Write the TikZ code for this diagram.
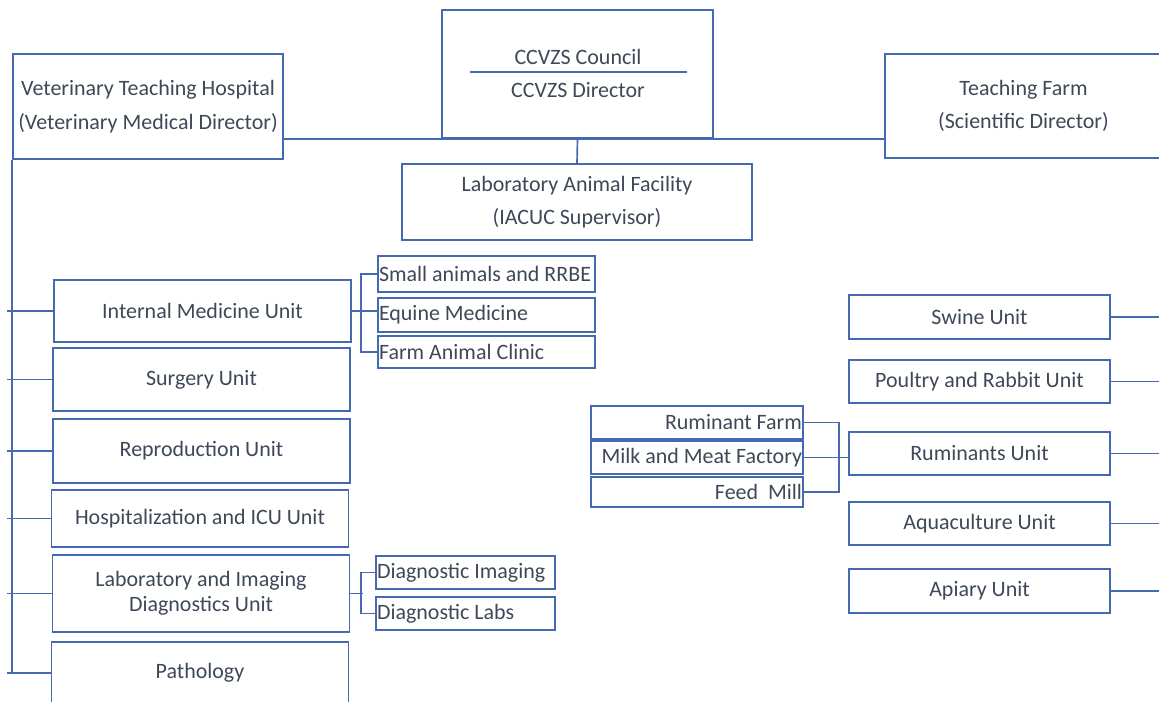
\documentclass[tikz,border=0pt]{standalone}
\usepackage{fontspec}
\setmainfont{Carlito}
\usepackage{tikz}
\usetikzlibrary{positioning,calc}

\definecolor{boxblue}{RGB}{70,106,178}
\definecolor{txtgray}{RGB}{62,72,88}

\begin{document}
\begin{tikzpicture}[
    x=0.02cm, y=-0.02cm,
    box/.style={draw=boxblue, line width=0.95pt, text=txtgray, align=center, inner sep=0pt,
                font=\fontsize{12.5}{14}\selectfont},
    head/.style={box, font=\fontsize{12.5}{19}\selectfont},
    unit/.style={box, minimum width=5.94cm},
    farmunit/.style={box, minimum width=5.22cm},
    leftsub/.style={box, align=flush left, text width=4.3cm, inner xsep=0.02cm,
                    execute at begin node={\spaceskip=0pt\xspaceskip=0pt\relax}},
    diagsub/.style={leftsub, text width=3.54cm},
    rumsub/.style={leftsub, align=flush right, text width=4.2cm},
    lbl/.style={text=txtgray, font=\fontsize{12.5}{14}\selectfont, inner sep=1pt},
    conn/.style={draw=boxblue, line width=0.95pt},
]
\useasboundingbox (0,0) rectangle (1159,702);
\clip (0,0) rectangle (1159,702);

% Top level
\node[box, minimum width=5.42cm, minimum height=2.56cm] (council) at (577.5,74) {};
\node[lbl] (ctitle) at (578,57) {CCVZS Council};
\node[lbl] (cdirector) at (578,90) {CCVZS Director};
\draw[conn] (470,72) -- (687,72);

\node[head, minimum width=5.4cm, minimum height=2.1cm] (vth) at (148,106.5)
    {Veterinary Teaching Hospital\\(Veterinary Medical Director)};
\node[head, minimum width=5.54cm, minimum height=2.08cm] (farm) at (1023.5,106)
    {Teaching Farm\\(Scientific Director)};
\node[head, minimum width=7.0cm, minimum height=1.52cm] (laf) at (577,202)
    {Laboratory Animal Facility\\(IACUC Supervisor)};

% Hospital units
\node[unit, minimum height=1.24cm] (im) at (202.5,311) {Internal Medicine Unit};
\node[unit, minimum height=1.26cm] (surg) at (201.5,379.5) {Surgery Unit};
\node[unit, minimum height=1.28cm] (repro) at (201.5,451) {Reproduction Unit};
\node[unit, minimum height=1.14cm] (hosp) at (200,518.5) {Hospitalization and ICU Unit};
\node[unit, minimum height=1.54cm] (labimg) at (201,593.5) {Laboratory and Imaging\\Diagnostics Unit};
\node[unit, minimum height=1.24cm] (path) at (200,673) {Pathology};

% Internal medicine sections
\node[leftsub, minimum height=0.72cm] (smallan) at (486.5,274) {Small animals and RRBE};
\node[leftsub, minimum height=0.68cm] (equine) at (486.5,315) {Equine Medicine};
\node[leftsub, minimum height=0.64cm] (farmclinic) at (486.5,352) {Farm Animal Clinic};

% Diagnostics sections
\node[diagsub, minimum height=0.66cm] (diagimg) at (465.5,572.5) {Diagnostic Imaging};
\node[diagsub, minimum height=0.66cm] (diaglab) at (465.5,613.5) {Diagnostic Labs};

% Farm units
\node[farmunit, minimum height=0.88cm] (swine) at (979.5,317) {Swine Unit};
\node[farmunit, minimum height=0.86cm] (poultry) at (979.5,381.5) {Poultry and Rabbit Unit};
\node[farmunit, minimum height=0.86cm] (rumin) at (979.5,453.5) {Ruminants Unit};
\node[farmunit, minimum height=0.86cm] (aqua) at (979.5,523.5) {Aquaculture Unit};
\node[farmunit, minimum height=0.88cm] (apiary) at (979.5,591) {Apiary Unit};

% Ruminant sections
\node[rumsub, minimum height=0.66cm] (rumfarm) at (697,422.5) {Ruminant Farm};
\node[rumsub, minimum height=0.66cm] (milkmeat) at (697,457.5) {Milk and Meat Factory};
\node[rumsub, minimum height=0.6cm] (feedmill) at (697,492) {Feed\ \ Mill};

% Connectors
\draw[conn] (vth.east |- council.south) -- (farm.west |- council.south);
\draw[conn] (council.south) -- (laf.north);

\draw[conn] (vth.south west) -- (vth.south west |- path.west);
\foreach \u in {im,surg,repro,hosp,labimg,path}
    \draw[conn] ([xshift=-3]vth.south west |- \u.west) -- (\u.west);

\draw[conn] (smallan.west) -- ++(-16,0) |- (farmclinic.west);
\draw[conn] (im.east) -- (im.east -| equine.west);

\draw[conn] (diagimg.west) -- ++(-14,0) |- (diaglab.west);
\draw[conn] (labimg.east) -- ++(13,0);

\draw[conn] (rumfarm.east) -- ++(35,0) |- (feedmill.east);
\draw[conn] (milkmeat.east) -- (milkmeat.east -| rumin.west);

\foreach \u in {swine,poultry,rumin,aqua,apiary}
    \draw[conn] (\u.east) -- ++(60,0);
\end{tikzpicture}
\end{document}
